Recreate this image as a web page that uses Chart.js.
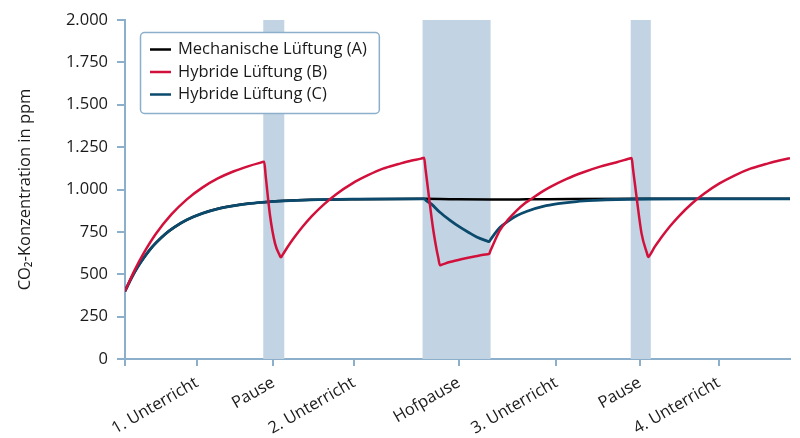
<!DOCTYPE html>
<html>
<head>
<meta charset="utf-8">
<script src="https://cdn.jsdelivr.net/npm/chart.js@4.4.1/dist/chart.umd.min.js"></script>
<style>
  html, body { margin: 0; padding: 0; background: #fff; }
</style>
</head>
<body>
<canvas id="chart" width="800" height="438"></canvas>
<script>
// Time axis in minutes (lesson ~45, short break ~6.5, Hofpause ~22)
const tickPos = [0, 23.3, 48, 74, 108, 139.5, 166.5, 192]
const tickLabels = ["", "1. Unterricht", "Pause", "2. Unterricht", "Hofpause", "3. Unterricht", "Pause", "4. Unterricht"]

// Break periods (shaded bands)
const bandStart = [44.7, 96.2, 163.5]
const bandEnd = [51.5, 118.2, 170]

// Mechanische Lüftung (A)
const timeA = [0, 2, 4, 6, 8, 10, 13, 16, 20, 25, 30, 35, 40, 45, 51.5, 60, 75, 96.7, 105, 118, 130, 145, 165, 215]
const valuesA = [400, 475, 540, 595, 644, 685, 737, 778, 821, 859, 886, 904, 917, 925, 933, 939, 943, 945, 943, 941, 942, 944, 945, 945]

// Hybride Lüftung (B)
const timeB = [0, 3, 6, 10, 15, 20, 25, 30, 35, 40, 43, 45, 45.5, 46.9, 48.5, 49.9, 50.4,
  51, 52.4, 54.4, 57.4, 60.4, 64.4, 68.4, 73.4, 78.4, 83.4, 88.4, 92.4, 95.7, 96.7, 97.2, 99.6, 100.8, 101.3, 101.8,
  102.5, 105, 109, 113, 117.2, 117.7, 118.2, 119.5, 121.2, 124, 126.6, 129, 131.5, 134.5, 137.4, 142.8, 148.2, 153.6, 159, 162.8, 163.8,
  164.2, 165.4, 167, 168.7, 169.2,
  169.7, 171.2, 173.2, 176.2, 179.2, 183.2, 187.2, 192.2, 197.2, 202.2, 207.2, 211.2, 215]
const valuesB = [400, 520, 623, 739, 853, 942, 1011, 1065, 1106, 1138, 1154, 1163, 1077, 845, 682, 616, 600,
  616, 656, 709, 780, 843, 914, 974, 1035, 1083, 1123, 1150, 1170, 1182, 1187, 1115, 770, 640, 596, 553,
  557, 572, 590, 605, 618, 620, 641, 695, 759, 825, 876, 915, 945, 983, 1014, 1063, 1102, 1135, 1161, 1181, 1186,
  1128, 955, 741, 627, 602,
  613, 660, 712, 783, 845, 916, 975, 1036, 1084, 1123, 1150, 1170, 1184]

// Hybride Lüftung (C)
const timeC = [0, 2, 4, 6, 8, 10, 13, 16, 20, 25, 30, 35, 40, 45, 51.5, 60, 75, 96.2, 96.7, 97.5,
  99, 101.8, 105, 108.3, 111, 113.7, 117.2, 117.7, 118.2, 119.5, 121.2, 124, 126.6, 130, 135.2, 140, 146, 152, 159, 170, 185, 215]
const valuesC = [400, 475, 540, 595, 644, 685, 737, 778, 821, 859, 886, 904, 917, 925, 933, 939, 943, 945, 945, 933,
  915, 866, 820, 778, 748, 720, 695, 692, 705, 738, 776, 815, 845, 872, 900, 916, 929, 936, 941, 944, 945, 945]

const yTicksMax = 2000
const yTickStep = 250

const AXIS = "#8cb0cc"
const BAND = "#c2d4e3"
const FONT = "'Open Sans', sans-serif"
const FONT_SIZE = 16.5

const toPoints = (xs, ys) => xs.map((x, i) => ({ x, y: ys[i] }))
const formatDE = (v) => String(v).replace(/\B(?=(\d{3})+(?!\d))/g, ".")

// Shaded break bands behind the lines
const bandPlugin = {
  id: "bands",
  beforeDatasetsDraw(chart) {
    const { ctx, chartArea, scales } = chart
    ctx.save()
    ctx.fillStyle = BAND
    bandStart.forEach((s, i) => {
      const x0 = scales.x.getPixelForValue(s)
      const x1 = scales.x.getPixelForValue(bandEnd[i])
      ctx.fillRect(x0, chartArea.top, x1 - x0, chartArea.bottom - chartArea.top)
    })
    ctx.restore()
  },
}

// Boxed legend inside the plot area
const legendPlugin = {
  id: "legendBox",
  afterDatasetsDraw(chart) {
    const { ctx, chartArea } = chart
    const items = chart.data.datasets.map((d) => ({ text: d.label, color: d.borderColor }))
    ctx.save()
    ctx.font = `${FONT_SIZE}px ${FONT}`
    const textW = Math.max(...items.map((it) => ctx.measureText(it.text).width))
    const x = chartArea.left + 15
    const y = chartArea.top + 12
    const w = 38 + textW + 12
    const h = 81
    ctx.beginPath()
    ctx.roundRect(x + 0.5, y + 0.5, w, h, 4)
    ctx.fillStyle = "#fff"
    ctx.fill()
    ctx.lineWidth = 1.5
    ctx.strokeStyle = AXIS
    ctx.stroke()
    ctx.textBaseline = "middle"
    ctx.fillStyle = "#1a1a1a"
    items.forEach((it, i) => {
      const cy = y + 17.5 + i * 22.5
      ctx.beginPath()
      ctx.moveTo(x + 10, cy)
      ctx.lineTo(x + 31, cy)
      ctx.lineWidth = 2.5
      ctx.strokeStyle = it.color
      ctx.stroke()
      ctx.fillText(it.text, x + 38, cy)
    })
    ctx.restore()
  },
}

Chart.defaults.font.family = FONT
Chart.defaults.font.size = FONT_SIZE
Chart.defaults.color = "#1a1a1a"

const lineStyle = { pointRadius: 0, borderWidth: 2.5, cubicInterpolationMode: "monotone", fill: false }

new Chart(document.getElementById("chart"), {
  type: "line",
  data: {
    datasets: [
      { label: "Mechanische Lüftung (A)", data: toPoints(timeA, valuesA), borderColor: "#000000", order: 2, ...lineStyle },
      { label: "Hybride Lüftung (B)", data: toPoints(timeB, valuesB), borderColor: "#d2103c", order: 0, ...lineStyle },
      { label: "Hybride Lüftung (C)", data: toPoints(timeC, valuesC), borderColor: "#0b4a6c", order: 1, ...lineStyle, borderWidth: 2.8 },
    ],
  },
  options: {
    responsive: false,
    animation: false,
    layout: { padding: { top: 20, right: 10, left: 0, bottom: 0 } },
    plugins: { legend: { display: false }, tooltip: { enabled: false } },
    scales: {
      x: {
        type: "linear",
        min: 0,
        max: 215,
        afterBuildTicks: (scale) => {
          scale.ticks = tickPos.map((v) => ({ value: v }))
        },
        afterFit: (scale) => {
          scale.height = 79
        },
        ticks: {
          autoSkip: false,
          minRotation: 30,
          maxRotation: 30,
          padding: 7,
          callback: (value, index) => tickLabels[index],
        },
        grid: { display: true, drawOnChartArea: false, drawTicks: true, tickLength: 7, color: AXIS, lineWidth: 2 },
        border: { color: AXIS, width: 2 },
      },
      y: {
        min: 0,
        max: yTicksMax,
        afterFit: (scale) => {
          scale.width = 125
        },
        ticks: {
          stepSize: yTickStep,
          padding: 9,
          callback: (value) => formatDE(value),
        },
        grid: { display: true, drawOnChartArea: false, drawTicks: true, tickLength: 8, color: AXIS, lineWidth: 2 },
        border: { color: AXIS, width: 2 },
        title: {
          display: true,
          text: "CO₂-Konzentration in ppm",
          padding: { top: 15, bottom: 0 },
        },
      },
    },
  },
  plugins: [bandPlugin, legendPlugin],
})
</script>
</body>
</html>
